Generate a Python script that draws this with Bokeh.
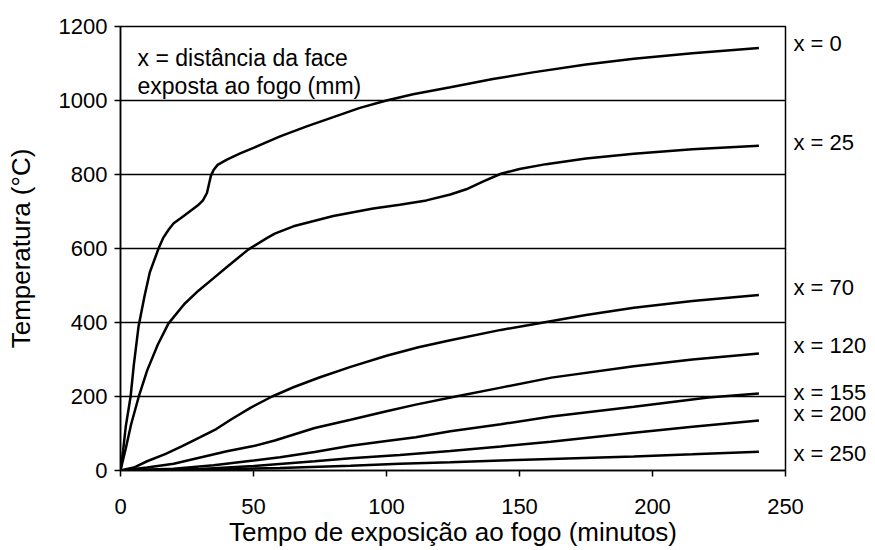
from bokeh.plotting import figure
from bokeh.models import Range1d, Label, FixedTicker, LinearAxis
from bokeh.embed import file_html
from bokeh.resources import INLINE

# ---- data ----
t_x0 = [0, 1, 2, 3.8, 5, 6.8, 9, 11, 14.3, 16, 18, 20, 23, 26, 29, 31, 32.5, 33.3, 34, 35, 36.5, 40, 45, 50, 60, 70, 80, 90, 100, 110, 124, 140, 155, 175, 193, 215, 240]
T_x0 = [0, 55, 120, 200, 285, 390, 470, 535, 600, 628, 650, 668, 684, 700, 716, 730, 750, 775, 797, 812, 826, 840, 857, 872, 903, 930, 955, 980, 1000, 1017, 1036, 1058, 1076, 1097, 1113, 1128, 1142]

t_x25 = [0, 2, 4, 6.8, 10, 14, 18, 24, 29.3, 35, 40, 48, 55, 58, 65, 80, 95, 105, 115, 124, 130, 136, 143, 150, 160, 175, 193, 215, 240]
T_x25 = [0, 60, 125, 198, 270, 340, 397, 450, 486, 520, 550, 597, 628, 640, 660, 688, 708, 718, 730, 746, 760, 780, 802, 815, 828, 843, 856, 868, 878]

t_x70 = [0, 5, 10, 17, 23, 30, 36, 42, 49, 57, 65, 75, 86.5, 100, 112, 124, 143, 159, 175, 193, 215, 240]
T_x70 = [0, 8, 25, 45, 65, 90, 112, 140, 170, 200, 225, 252, 280, 310, 333, 352, 380, 400, 420, 440, 458, 474]

t_x120 = [0, 10, 20, 30, 40, 50, 58, 73, 86.5, 100, 111, 126, 143, 162, 193, 215, 240]
T_x120 = [0, 8, 18, 35, 52, 66, 81, 115, 137, 160, 178, 200, 224, 251, 282, 300, 316]

t_x155 = [0, 20, 35, 50, 60, 73, 86.5, 100, 111, 124, 143, 162, 193, 221, 240]
T_x155 = [0, 5, 14, 27, 36, 50, 67, 80, 90, 106, 125, 146, 172, 197, 208]

t_x200 = [0, 30, 50, 73, 86.5, 105, 124, 143, 161.7, 193, 215, 240]
T_x200 = [0, 4, 12, 25, 33, 42, 53, 65, 78, 102, 118, 135]

t_x250 = [0, 30, 60, 86.5, 105, 124, 143, 161.7, 193, 215, 240]
T_x250 = [0, 2, 7, 13, 18, 22, 27, 31, 38, 44, 51]

series_names = ["x = 0", "x = 25", "x = 70", "x = 120", "x = 155", "x = 200", "x = 250"]
series_t = [t_x0, t_x25, t_x70, t_x120, t_x155, t_x200, t_x250]
series_T = [T_x0, T_x25, T_x70, T_x120, T_x155, T_x200, T_x250]
label_temps = [1154, 886, 495, 338, 210, 155, 46]

x_ticks = [0, 50, 100, 150, 200, 250]
y_ticks = [0, 200, 400, 600, 800, 1000, 1200]

x_title = "Tempo de exposição ao fogo (minutos)"
y_title = "Temperatura (°C)"
note_lines = ["x = distância da face", "exposta ao fogo (mm)"]

FONT = "Liberation Sans"

p = figure(width=875, height=550, x_range=Range1d(0, 250), y_range=Range1d(0, 1200),
           output_backend="svg", toolbar_location=None,
           min_border_left=120, min_border_right=90, min_border_top=26, min_border_bottom=80)
p.background_fill_color = "white"
p.border_fill_color = "white"
p.outline_line_color = "black"
p.outline_line_width = 1.5

p.xgrid.visible = False
p.ygrid.grid_line_color = "black"
p.ygrid.grid_line_width = 1.3
p.ygrid.ticker = FixedTicker(ticks=y_ticks)

p.xaxis.ticker = FixedTicker(ticks=x_ticks)
p.yaxis.ticker = FixedTicker(ticks=y_ticks)
for ax in (p.xaxis, p.yaxis):
    ax.axis_line_color = "black"
    ax.axis_line_width = 1.5
    ax.major_tick_line_color = "black"
    ax.major_tick_line_width = 1.5
    ax.major_tick_in = 0
    ax.major_tick_out = 6
    ax.minor_tick_line_color = None
    ax.major_label_text_font = FONT
    ax.major_label_text_font_size = "22px"
    ax.major_label_text_color = "black"
    ax.axis_label_text_font = FONT
    ax.axis_label_text_font_style = "normal"
    ax.axis_label_text_color = "black"

p.xaxis.axis_label = x_title
p.yaxis.axis_label = y_title
p.xaxis.axis_label_text_font_size = "26px"
p.yaxis.axis_label_text_font_size = "26px"
p.xaxis.major_label_standoff = 22
p.xaxis.axis_label_standoff = 0
p.yaxis.major_label_standoff = 7
p.yaxis.axis_label_standoff = 20

# series names on the right, as labels of a tick-less right axis
right = LinearAxis(ticker=FixedTicker(ticks=label_temps),
                   major_label_overrides={v: n for v, n in zip(label_temps, series_names)})
right.axis_line_color = None
right.major_tick_line_color = None
right.minor_tick_line_color = None
right.major_tick_in = 0
right.major_tick_out = 0
right.major_label_standoff = 8
right.major_label_text_font = FONT
right.major_label_text_font_size = "22px"
right.major_label_text_color = "black"
p.add_layout(right, "right")

for t, T in zip(series_t, series_T):
    p.line(t, T, line_color="black", line_width=2.5)

p.add_layout(Label(x=6.4, y=1116, text=note_lines[0], text_font=FONT, text_font_size="23px",
                   text_color="black", text_baseline="alphabetic"))
p.add_layout(Label(x=6.4, y=1040, text=note_lines[1], text_font=FONT, text_font_size="23px",
                   text_color="black", text_baseline="alphabetic"))

open("out.html", "w").write(file_html(p, INLINE))
